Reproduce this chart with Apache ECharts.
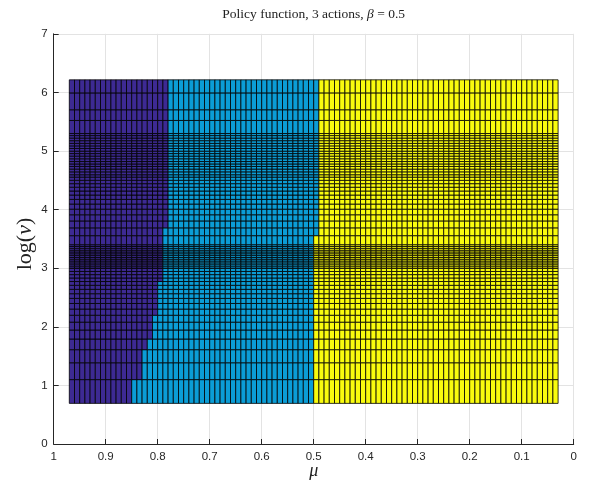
<!DOCTYPE html>
<html><head><meta charset="utf-8">
<script src="https://cdn.jsdelivr.net/npm/echarts@6/dist/echarts.min.js"></script>
<style>html,body{margin:0;padding:0;background:#fff}#c{width:592px;height:487px}</style>
</head><body><div id="c"></div>
<script>
// grid vertices in mu (x, reversed axis) and nu (y = log(nu))
const muEdges = [0.97,0.96,0.95,0.94,0.93,0.92,0.91,0.90,0.89,0.88,0.87,0.86,0.85,0.84,0.83,0.82,0.81,0.80,0.79,0.78,0.77,0.76,0.75,0.74,0.73,0.72,0.71,0.70,0.69,0.68,0.67,0.66,0.65,0.64,0.63,0.62,0.61,0.60,0.59,0.58,0.57,0.56,0.55,0.54,0.53,0.52,0.51,0.50,0.49,0.48,0.47,0.46,0.45,0.44,0.43,0.42,0.41,0.40,0.39,0.38,0.37,0.36,0.35,0.34,0.33,0.32,0.31,0.30,0.29,0.28,0.27,0.26,0.25,0.24,0.23,0.22,0.21,0.20,0.19,0.18,0.17,0.16,0.15,0.14,0.13,0.12,0.11,0.10,0.09,0.08,0.07,0.06,0.05,0.04,0.03];
const nuEdges = [2,3,4,5,6,7,8,9,10,11,12,13,14,15,16,17,18,19,20,20.6,21.3,22,22.7,23.4,24.1,24.9,25.7,26.5,27.3,28.2,29.1,30,35,40,45,50,55,60,65,70,75,80,85,90,95,99,104,109,114,119,124,130,136,142,148,155,162,169,177,185,193,200,250,300,400,500];
// per row (between consecutive nuEdges): mu above purpleEdge -> action 1, above yellowEdge -> action 2, else action 3
const purpleEdge = [0.85,0.83,0.83,0.82,0.81,0.81,0.81,0.80,0.80,0.80,0.80,0.80,0.80,0.80,
  0.79,0.79,0.79,0.79,0.79,0.79,0.79,0.79,0.79,0.79,0.79,0.79,0.79,0.79,0.79,0.79,0.79,0.79,0.79,
  0.78,0.78,0.78,0.78,0.78,0.78,0.78,0.78,0.78,0.78,0.78,0.78,0.78,0.78,0.78,0.78,0.78,0.78,0.78,0.78,0.78,0.78,0.78,0.78,0.78,0.78,0.78,0.78,0.78,0.78,0.78,0.78];
const yellowEdge = [0.50,0.50,0.50,0.50,0.50,0.50,0.50,0.50,0.50,0.50,0.50,0.50,0.50,0.50,0.50,0.50,
  0.50,0.50,0.50,0.50,0.50,0.50,0.50,0.50,0.50,0.50,0.50,0.50,0.50,0.50,0.50,0.50,
  0.49,0.49,0.49,0.49,0.49,0.49,0.49,0.49,0.49,0.49,0.49,0.49,0.49,0.49,0.49,0.49,0.49,
  0.49,0.49,0.49,0.49,0.49,0.49,0.49,0.49,0.49,0.49,0.49,0.49,0.49,0.49,0.49,0.49];
const actionColors = ['#3d2a93','#0b9dd6','#f9fb0e'];
const xTickLabels = ['1','0.9','0.8','0.7','0.6','0.5','0.4','0.3','0.2','0.1','0'];
const yTickLabels = ['0','1','2','3','4','5','6','7'];

const cells = [];
for (let r = 0; r < nuEdges.length - 1; r++) {
  const y0 = Math.log(nuEdges[r]), y1 = Math.log(nuEdges[r + 1]);
  for (let c = 0; c < muEdges.length - 1; c++) {
    const hi = muEdges[c], lo = muEdges[c + 1];
    let a;
    if (lo >= purpleEdge[r] - 1e-9) a = 0;
    else if (lo >= yellowEdge[r] - 1e-9) a = 1;
    else a = 2;
    cells.push([hi, lo, y0, y1, a]);
  }
}

const chart = echarts.init(document.getElementById('c'), null, {renderer: 'canvas'});
const tickColor = '#262626';
chart.setOption({
  animation: false,
  backgroundColor: '#fff',
  grid: {left: 53.7, right: 18.3, top: 33.8, bottom: 43, containLabel: false},
  xAxis: {
    type: 'value', min: 0, max: 1, interval: 0.1, inverse: true, position: 'bottom',
    axisLine: {show: true, onZero: false, lineStyle: {color: tickColor, width: 1}},
    axisTick: {show: true, inside: true, length: 5, lineStyle: {color: tickColor}},
    axisLabel: {color: tickColor, fontSize: 11.5, fontFamily: 'Liberation Sans, Arial, sans-serif', margin: 7,
      formatter: v => xTickLabels[Math.round((1 - v) * 10)]},
    splitLine: {show: true, lineStyle: {color: '#e3e3e3', width: 1}}
  },
  yAxis: {
    type: 'value', min: 0, max: 7, interval: 1, position: 'left',
    axisLine: {show: true, onZero: false, lineStyle: {color: tickColor, width: 1}},
    axisTick: {show: true, inside: true, length: 5, lineStyle: {color: tickColor}},
    axisLabel: {color: tickColor, fontSize: 11.5, fontFamily: 'Liberation Sans, Arial, sans-serif', margin: 6,
      formatter: v => yTickLabels[Math.round(v)]},
    splitLine: {show: true, lineStyle: {color: '#e3e3e3', width: 1}}
  },
  series: [{
    type: 'custom',
    progressive: 0,
    encode: {x: [0, 1], y: [2, 3]},
    data: cells,
    renderItem: function (params, api) {
      const p0 = api.coord([api.value(0), api.value(3)]);
      const p1 = api.coord([api.value(1), api.value(2)]);
      return {
        type: 'rect',
        shape: {x: Math.min(p0[0], p1[0]), y: Math.min(p0[1], p1[1]),
                width: Math.abs(p1[0] - p0[0]), height: Math.abs(p1[1] - p0[1])},
        style: {fill: actionColors[api.value(4)], stroke: '#000', lineWidth: 0.8}
      };
    }
  }],
  graphic: [
    {type: 'text', x: 313.7, y: 14, style: {
      text: '{a|Policy function, 3 actions, }{b|β}{a| = 0.5}', textAlign: 'center', textVerticalAlign: 'middle',
      rich: {a: {fontFamily: 'Liberation Serif, serif', fontSize: 13.5, fill: '#222'},
             b: {fontFamily: 'Liberation Serif, serif', fontSize: 13.5, fontStyle: 'italic', fill: '#222'}}}},
    {type: 'text', x: 313.7, y: 471, style: {
      text: 'μ', textAlign: 'center', textVerticalAlign: 'middle',
      font: 'italic 18px Liberation Serif, serif', fill: '#222'}},
    {type: 'text', x: 25, y: 244, rotation: Math.PI / 2, style: {
      text: '{a|log(}{b|ν}{a|)}', textAlign: 'center', textVerticalAlign: 'middle',
      rich: {a: {fontFamily: 'Liberation Serif, serif', fontSize: 22, fill: '#222'},
             b: {fontFamily: 'Liberation Serif, serif', fontSize: 22, fontStyle: 'italic', fill: '#222'}}}}
  ]
});
</script>
</body></html>
